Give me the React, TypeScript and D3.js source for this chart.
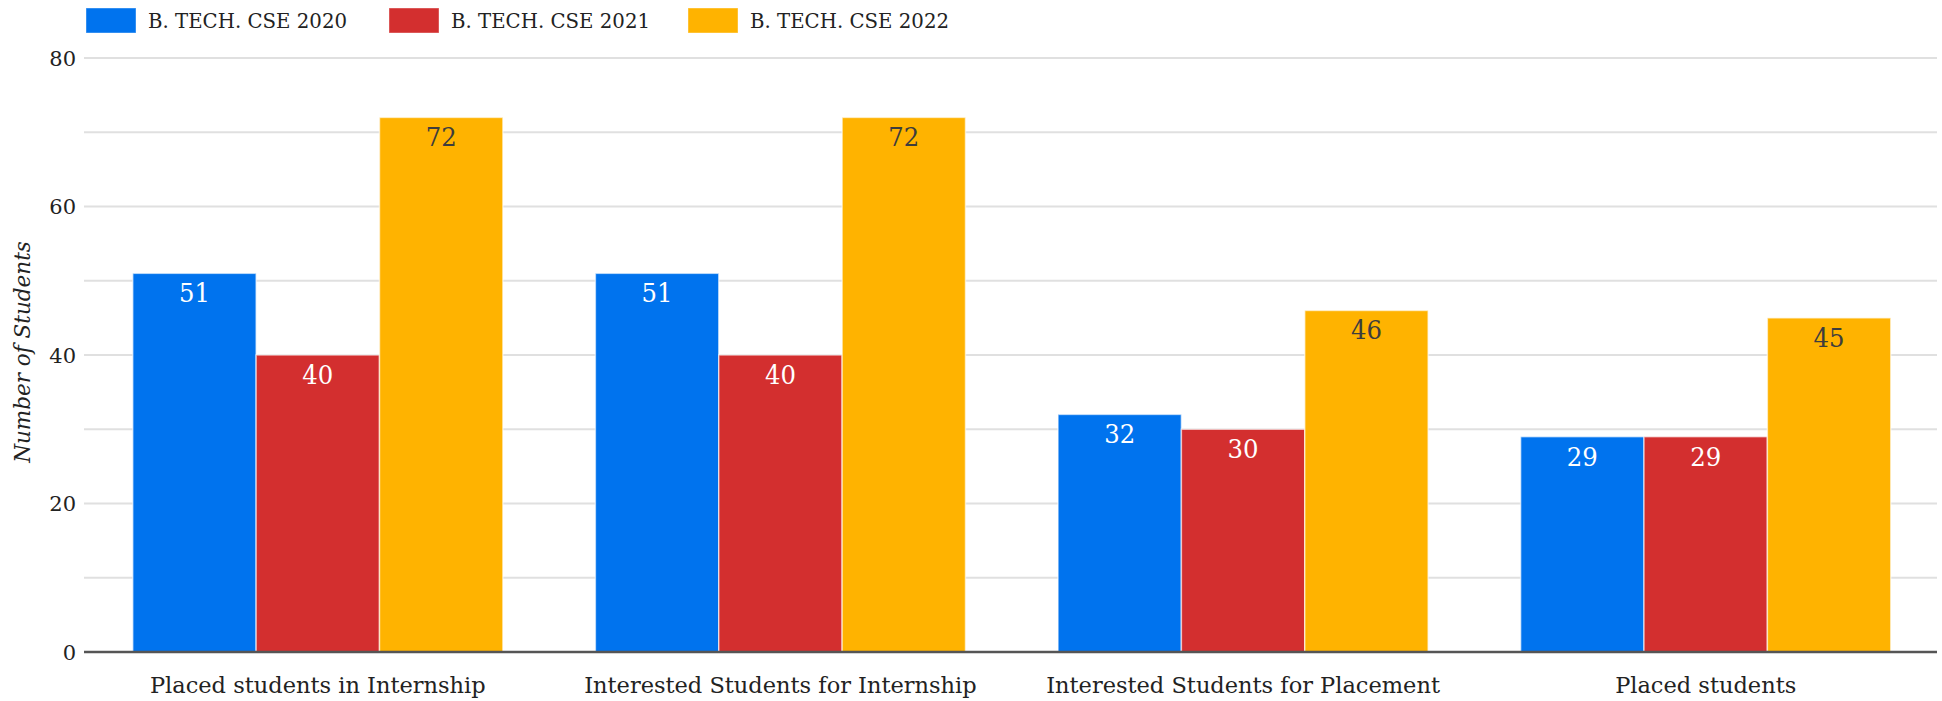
import React from "react";
import * as d3 from "d3";

const categories = [
  "Placed students in Internship",
  "Interested Students for Internship",
  "Interested Students for Placement",
  "Placed students",
];
const seriesNames = ["B. TECH. CSE 2020", "B. TECH. CSE 2021", "B. TECH. CSE 2022"];
const cse2020 = [51, 51, 32, 29];
const cse2021 = [40, 40, 30, 29];
const cse2022 = [72, 72, 46, 45];
const yTicks = [0, 20, 40, 60, 80];
const yGrid = [0, 10, 20, 30, 40, 50, 60, 70, 80];
const yTitle = "Number of Students";

const colors = ["#0073EE", "#D32F2F", "#FFB300"];
const labelColors = ["#ffffff", "#ffffff", "#3d3d3d"];

const W = 1942;
const H = 701;
const gridLeft = 84;
const left = 86.5;
const right = 1937;
const top = 58;
const bottom = 652;
const FONT = "'DejaVu Serif', serif";

export default function App() {
  const series = [cse2020, cse2021, cse2022];
  const x0 = d3
    .scaleBand<string>()
    .domain(categories)
    .range([left, right])
    .paddingInner(0.2)
    .paddingOuter(0.1);
  const x1 = d3
    .scaleBand<number>()
    .domain([0, 1, 2])
    .range([0, x0.bandwidth()]);
  const y = d3.scaleLinear().domain([0, 80]).range([bottom, top]);

  const legendX = [86, 389, 688];

  return (
    <div style={{ position: "absolute", left: 0, top: 0 }}>
      <svg width={W} height={H} style={{ display: "block", background: "#fff" }}>
        {/* legend */}
        {seriesNames.map((name, i) => (
          <g key={name}>
            <rect x={legendX[i]} y={8} width={50} height={25} fill={colors[i]} stroke="#ffffff" strokeOpacity={0.4} />
            <text x={legendX[i] + 62} y={28} fontFamily={FONT} fontSize={21} fill="#222" textLength={199} lengthAdjust="spacingAndGlyphs">
              {name}
            </text>
          </g>
        ))}
        {/* gridlines */}
        {yGrid.map((t) => (
          <line key={t} x1={gridLeft} x2={right} y1={y(t)} y2={y(t)} stroke="#e0e0e0" strokeWidth={2} />
        ))}
        {/* y tick labels */}
        {yTicks.map((t) => (
          <text key={t} x={76} y={y(t) + 7.5} textAnchor="end" fontFamily={FONT} fontSize={21} fill="#222">
            {t}
          </text>
        ))}
        {/* y title */}
        <text
          transform={`translate(30,352) rotate(-90)`}
          textAnchor="middle"
          fontFamily={FONT}
          fontStyle="italic"
          fontSize={21.5}
          fill="#222"
        >
          {yTitle}
        </text>
        {/* bars */}
        {categories.map((c, ci) => (
          <g key={c} transform={`translate(${x0(c)},0)`}>
            {series.map((s, si) => (
              <rect
                key={si}
                x={x1(si)}
                y={y(s[ci])}
                width={x1.bandwidth()}
                height={y(0) - y(s[ci])}
                fill={colors[si]}
                stroke="#ffffff"
                strokeOpacity={0.6}
                strokeWidth={1.5}
              />
            ))}
            {series.map((s, si) => (
              <text
                key={"l" + si}
                x={(x1(si) as number) + x1.bandwidth() / 2}
                y={y(s[ci]) + 29}
                textAnchor="middle"
                fontFamily={FONT}
                fontSize={26}
                fill={labelColors[si]}
                textLength={31}
                lengthAdjust="spacingAndGlyphs"
              >
                {s[ci]}
              </text>
            ))}
          </g>
        ))}
        {/* baseline */}
        <line x1={gridLeft} x2={right} y1={bottom} y2={bottom} stroke="#555" strokeWidth={2.5} />
        {/* x labels */}
        {categories.map((c) => (
          <text
            key={c}
            x={(x0(c) as number) + x0.bandwidth() / 2}
            y={693}
            textAnchor="middle"
            fontFamily={FONT}
            fontSize={22.5}
            fill="#222"
          >
            {c}
          </text>
        ))}
      </svg>
    </div>
  );
}
